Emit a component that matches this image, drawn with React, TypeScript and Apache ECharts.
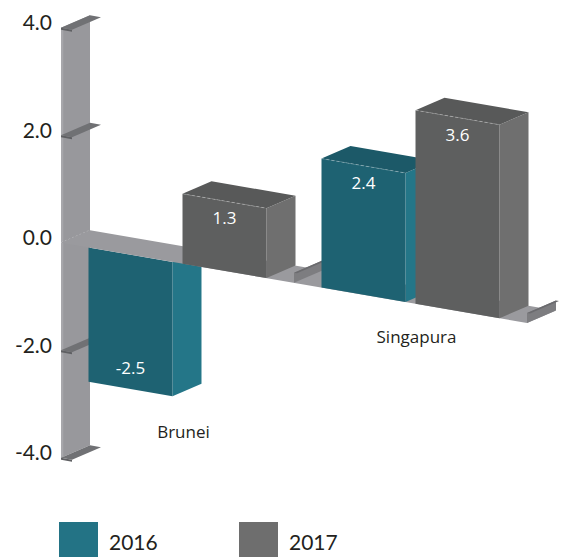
import React, { useEffect, useRef } from 'react';
import * as echarts from 'echarts';

const categories = ['Brunei', 'Singapura'];
const seriesNames = ['2016', '2017'];
const values2016 = [-2.5, 2.4];
const values2017 = [1.3, 3.6];
const yTicks = [-4, -2, 0, 2, 4];

// oblique projection constants (style)
const DX = 29;
const DY = 12.5;
const SLOPE = 0.172;
const FRONT_OFF = 6.25;

const palette = [
  { front: '#1e6272', side: '#247688', top: '#1c5968', legend: '#237385' },
  { front: '#5e5f5f', side: '#6f6f6f', top: '#585959', legend: '#6e6e6e' },
];

function projector(gx: number) {
  return (x: number, y: number, d: number) => [x + DX * d, y + FRONT_OFF + SLOPE * (x - gx) - DY * d];
}

function makeBarRender(s: number) {
  return (params: any, api: any) => {
    const cs = params.coordSys;
    const gx = cs.x;
    const i = api.value(0);
    const v = api.value(1);
    const c0 = api.coord([i, 0]);
    const cx = c0[0];
    const y0 = c0[1];
    const yv = api.coord([i, v])[1];
    const band = api.size([1, 0])[0];
    const barW = band * 0.3605;
    const gap = band * 0.043;
    const x0 = cx - band * 0.382 + s * (barW + gap);
    const x1 = x0 + barW;
    const P = projector(gx);
    const k = (i * 2 + s) * 5;
    const base = v >= 0 ? 100 : 10;
    const col = palette[s];
    const children: any[] = [];
    children.push({
      type: 'polygon',
      shape: { points: [P(x1, yv, 0), P(x1, yv, 1), P(x1, y0, 1), P(x1, y0, 0)] },
      style: { fill: col.side },
      z2: base + k,
    });
    if (v >= 0) {
      children.push({
        type: 'polygon',
        shape: { points: [P(x0, yv, 0), P(x0, yv, 1), P(x1, yv, 1), P(x1, yv, 0)] },
        style: { fill: col.top },
        z2: base + k + 1,
      });
    }
    children.push({
      type: 'polygon',
      shape: { points: [P(x0, yv, 0), P(x1, yv, 0), P(x1, y0, 0), P(x0, y0, 0)] },
      style: { fill: col.front },
      z2: base + k + 2,
    });
    if (v >= 0) {
      children.push({
        type: 'polyline',
        shape: { points: [P(x0, yv, 0), P(x1, yv, 0)] },
        style: { stroke: 'rgba(255,255,255,0.35)', lineWidth: 0.8, lineDash: [3, 2], fill: null },
        z2: base + k + 3,
      });
    }
    const xc = (x0 + x1) / 2;
    const pc = P(xc, yv, 0);
    children.push({
      type: 'text',
      x: pc[0],
      y: pc[1] + (v >= 0 ? 17 : -22),
      style: {
        text: v.toFixed(1),
        fill: '#ffffff',
        fontSize: 17,
        fontFamily: '"Open Sans", sans-serif',
        align: 'center',
        verticalAlign: 'middle',
        textAlign: 'center',
        textVerticalAlign: 'middle',
      },
      z2: base + k + 4,
    });
    return { type: 'group', children };
  };
}

const frameRender = (params: any, api: any) => {
  const cs = params.coordSys;
  const gx = cs.x;
  const gw = cs.width;
  const yTop = api.coord([0, yTicks[yTicks.length - 1]])[1];
  const yBot = api.coord([0, yTicks[0]])[1];
  const y0 = api.coord([0, 0])[1];
  const band = api.size([1, 0])[0];
  const P = projector(gx);
  const children: any[] = [];
  children.push({
    type: 'polygon',
    shape: { points: [P(gx, yTop, 0), P(gx, yTop, 1), P(gx, yBot, 1), P(gx, yBot, 0)] },
    style: { fill: '#98989c' },
    z2: 0,
  });
  children.push({
    type: 'polygon',
    shape: { points: [P(gx, yTop, 0), P(gx, yTop, 0.08), P(gx, yBot, 0.08), P(gx, yBot, 0)] },
    style: { fill: '#a7a7ab' },
    z2: 1,
  });
  children.push({
    type: 'polyline',
    shape: { points: [P(gx, y0, 0), P(gx, y0, 1)] },
    style: { stroke: 'rgba(255,255,255,0.45)', lineWidth: 0.8, lineDash: [2, 2], fill: null },
    z2: 2,
  });
  yTicks.forEach((t) => {
    if (t === 0) return;
    const yt = api.coord([0, t])[1];
    children.push({
      type: 'polygon',
      shape: { points: [P(gx, yt, 0), P(gx + 11, yt, 0), P(gx + 11, yt + 2, 0), P(gx, yt + 2, 0)] },
      style: { fill: '#5f6063' },
      z2: 3,
    });
    children.push({
      type: 'polygon',
      shape: { points: [P(gx, yt, 0), P(gx, yt, 1), P(gx + 11, yt, 1), P(gx + 11, yt, 0)] },
      style: { fill: '#707174' },
      z2: 4,
    });
  });
  children.push({
    type: 'polygon',
    shape: { points: [P(gx, y0, 0), P(gx, y0, 1), P(gx + gw, y0, 1), P(gx + gw, y0, 0)] },
    style: { fill: '#9a9a9e' },
    z2: 50,
  });
  for (let c = 1; c <= categories.length; c++) {
    const xe = gx + band * c;
    children.push({
      type: 'polygon',
      shape: { points: [P(xe, y0, 0), P(xe, y0 - 10, 0), P(xe, y0 - 10, 1), P(xe, y0, 1)] },
      style: { fill: '#7d7d80' },
      z2: 51,
    });
    children.push({
      type: 'polygon',
      shape: { points: [P(xe, y0 - 10, 0), P(xe + 3, y0 - 10, 0), P(xe + 3, y0 - 10, 1), P(xe, y0 - 10, 1)] },
      style: { fill: '#6b6b6e' },
      z2: 52,
    });
  }
  return { type: 'group', children };
};

const catLabelRender = (params: any, api: any) => {
  const cs = params.coordSys;
  const P = projector(cs.x);
  const i = api.value(0);
  const m = api.value(1);
  const cx = api.coord([i, 0])[0];
  const ym = api.coord([i, m])[1];
  const p = P(cx + 6, ym, 0);
  return {
    type: 'text',
    x: p[0],
    y: p[1] + 33,
    style: {
      text: categories[i],
      fill: '#231f20',
      fontSize: 17,
      fontFamily: '"Open Sans", sans-serif',
      align: 'center',
      verticalAlign: 'middle',
      textAlign: 'center',
      textVerticalAlign: 'middle',
    },
    z2: 200,
  };
};

export default function App() {
  const ref = useRef<HTMLDivElement>(null);
  useEffect(() => {
    if (!ref.current) return;
    const chart = echarts.init(ref.current, undefined, { renderer: 'svg' });
    const allVals = [values2016, values2017];
    const minByCat = categories.map((_, i) => Math.min(0, ...allVals.map((a) => a[i])));
    chart.setOption({
      animation: false,
      backgroundColor: '#ffffff',
      grid: { left: 61, top: 21.5, width: 466, height: 430, outerBoundsMode: 'none' },
      xAxis: {
        type: 'category',
        data: categories,
        show: false,
      },
      yAxis: {
        type: 'value',
        min: -4,
        max: 4,
        interval: 2,
        axisLine: { show: false },
        axisTick: { show: false },
        splitLine: { show: false },
        axisLabel: {
          formatter: (v: number) => v.toFixed(1),
          fontSize: 21,
          fontFamily: 'Lato, sans-serif',
          color: '#231f20',
          margin: 9,
        },
      },
      legend: [
        {
          data: [{ name: seriesNames[0], icon: 'rect' }],
          left: 59,
          top: 522,
          padding: 0,
          itemWidth: 39,
          itemHeight: 38,
          textStyle: { fontSize: 21, fontFamily: 'Lato, sans-serif', color: '#231f20', padding: [0, 0, 0, 6] },
        },
        {
          data: [{ name: seriesNames[1], icon: 'rect' }],
          left: 239,
          top: 522,
          padding: 0,
          itemWidth: 39,
          itemHeight: 38,
          textStyle: { fontSize: 21, fontFamily: 'Lato, sans-serif', color: '#231f20', padding: [0, 0, 0, 6] },
        },
      ],
      series: [
        {
          type: 'custom',
          name: 'frame',
          renderItem: frameRender,
          data: [[0, 0]],
          silent: true,
        },
        {
          type: 'custom',
          name: seriesNames[0],
          renderItem: makeBarRender(0),
          itemStyle: { color: palette[0].legend },
          data: values2016.map((v, i) => [i, v]),
        },
        {
          type: 'custom',
          name: seriesNames[1],
          renderItem: makeBarRender(1),
          itemStyle: { color: palette[1].legend },
          data: values2017.map((v, i) => [i, v]),
        },
        {
          type: 'custom',
          name: 'labels',
          renderItem: catLabelRender,
          data: minByCat.map((m, i) => [i, m]),
          silent: true,
        },
      ],
    });
    return () => chart.dispose();
  }, []);
  return <div ref={ref} style={{ position: 'fixed', left: 0, top: 0, width: 562, height: 557 }} />;
}
